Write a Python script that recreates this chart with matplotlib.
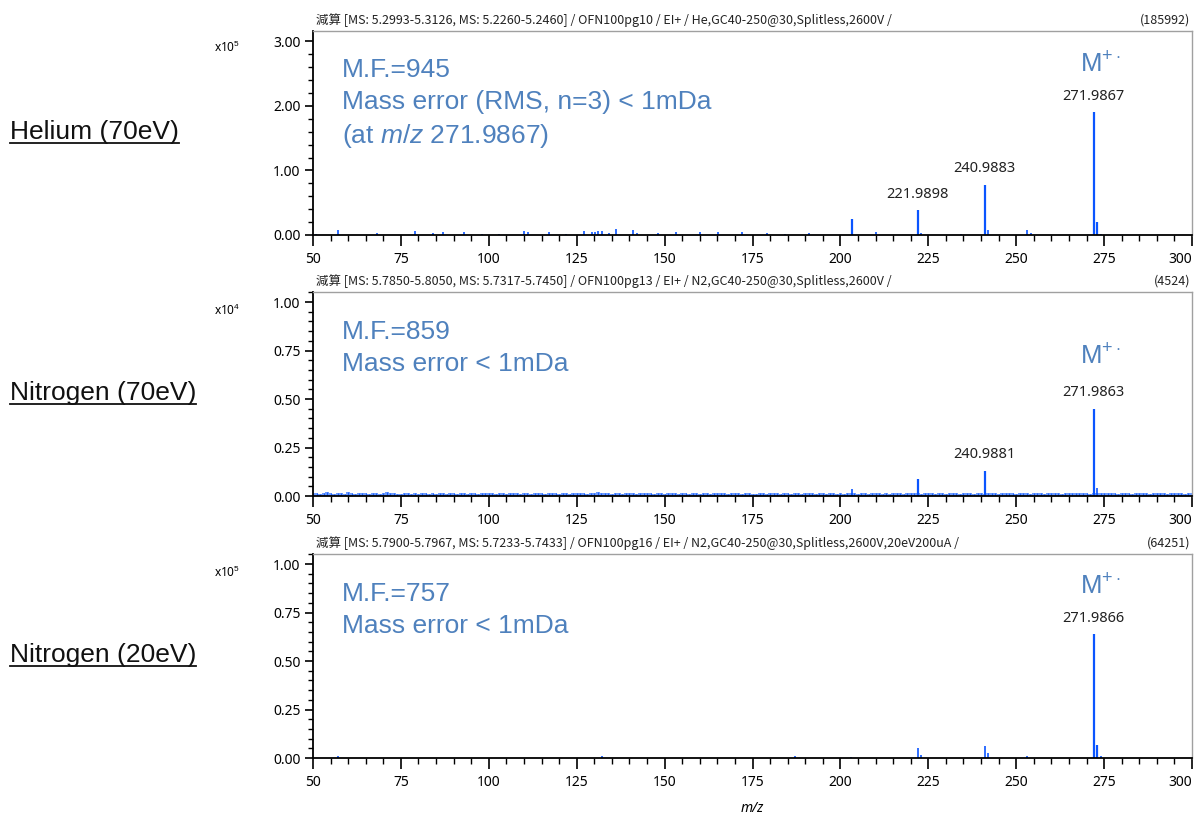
import matplotlib
matplotlib.use("Agg")
import matplotlib.pyplot as plt
from matplotlib.lines import Line2D
from matplotlib.ticker import MultipleLocator, FormatStrFormatter

# ---- data (m/z, intensity in units of the panel's scale) ----
he_mz = [271.9867, 272.99, 273.98, 240.9883, 241.99, 221.9898, 222.99, 203.2, 210.0,
         191.1, 184.2, 179.2, 234.2, 253.1, 254.2, 57.0, 50.8, 68.1, 79.0, 84.0, 87.1,
         93.0, 98.0, 103.0, 110.0, 111.2, 117.0, 122.0, 127.1, 129.3, 130.1, 131.1,
         132.3, 134.2, 136.1, 141.0, 142.1, 148.0, 153.2, 160.1, 165.1, 172.1]
he_int = [1.90, 0.20, 0.02, 0.78, 0.08, 0.38, 0.03, 0.25, 0.04,
          0.03, 0.02, 0.03, 0.02, 0.08, 0.03, 0.07, 0.02, 0.03, 0.06, 0.03, 0.05,
          0.04, 0.02, 0.02, 0.06, 0.05, 0.04, 0.02, 0.06, 0.05, 0.05, 0.06,
          0.06, 0.03, 0.09, 0.07, 0.03, 0.03, 0.04, 0.04, 0.05, 0.05]

n70_mz = [271.9863, 272.99, 240.9881, 221.99, 203.2]
n70_int = [0.45, 0.04, 0.13, 0.088, 0.036]
# baseline noise of the N2 70eV spectrum, one value per nominal mass 50..300
n70_noise = [
    0.014, 0.018, 0.012, 0.016, 0.020, 0.013, 0.011, 0.017, 0.015, 0.012, 0.019, 0.014, 0.010,
    0.016, 0.013, 0.018, 0.012, 0.015, 0.017, 0.011, 0.014, 0.019, 0.013, 0.016, 0.012,
    0.010, 0.013, 0.015, 0.011, 0.014, 0.012, 0.016, 0.013, 0.010, 0.015, 0.012, 0.014, 0.017,
    0.011, 0.013, 0.015, 0.012, 0.016, 0.014, 0.011, 0.013, 0.017, 0.012, 0.014, 0.015,
    0.013, 0.016, 0.012, 0.018, 0.014, 0.011, 0.015, 0.013, 0.017, 0.012, 0.014, 0.016, 0.011,
    0.013, 0.015, 0.018, 0.012, 0.014, 0.016, 0.013, 0.011, 0.015, 0.017, 0.012, 0.014,
    0.016, 0.013, 0.015, 0.012, 0.018, 0.014, 0.021, 0.017, 0.013, 0.015, 0.012, 0.016, 0.014,
    0.011, 0.015, 0.013, 0.017, 0.012, 0.014, 0.016, 0.013, 0.015, 0.011, 0.014, 0.016,
    0.012, 0.015, 0.013, 0.017, 0.011, 0.014, 0.016, 0.012, 0.015, 0.013, 0.010, 0.014, 0.016,
    0.012, 0.015, 0.013, 0.017, 0.014, 0.011, 0.015, 0.013, 0.016, 0.012, 0.014, 0.015,
    0.011, 0.009, 0.013, 0.016, 0.012, 0.018, 0.014, 0.015, 0.012, 0.017, 0.013, 0.011, 0.015,
    0.014, 0.012, 0.016, 0.013, 0.015, 0.011, 0.014, 0.017, 0.012, 0.013, 0.015, 0.012,
    0.014, 0.012, 0.016, 0.013, 0.015, 0.011, 0.014, 0.016, 0.012, 0.013, 0.015, 0.017, 0.012,
    0.014, 0.011, 0.016, 0.013, 0.015, 0.012, 0.014, 0.017, 0.013, 0.015, 0.012, 0.014,
    0.013, 0.015, 0.012, 0.016, 0.014, 0.011, 0.015, 0.013, 0.017, 0.012, 0.014, 0.016, 0.013,
    0.011, 0.015, 0.014, 0.012, 0.016, 0.013, 0.015, 0.012, 0.014, 0.017, 0.013, 0.015,
    0.012, 0.014, 0.016, 0.013, 0.011, 0.015, 0.013, 0.017, 0.012, 0.014, 0.016, 0.013, 0.015,
    0.012, 0.018, 0.014, 0.016, 0.013, 0.015, 0.017, 0.014, 0.012, 0.015, 0.018, 0.016,
    0.015, 0.013, 0.017, 0.014, 0.012, 0.016, 0.013, 0.015, 0.011, 0.014, 0.016, 0.013, 0.015,
    0.012, 0.014, 0.017, 0.013, 0.015, 0.012, 0.016, 0.014, 0.013, 0.015, 0.012, 0.014,
    0.013,
]

n20_mz = [271.9866, 272.99, 273.98, 240.99, 241.99, 221.99, 222.99, 253.0, 187.1, 132.1, 57.0, 203.0]
n20_int = [0.64, 0.068, 0.01, 0.062, 0.025, 0.05, 0.015, 0.01, 0.012, 0.01, 0.008, 0.006]

x_ticks = [50, 75, 100, 125, 150, 175, 200, 225, 250, 275, 300]

titles = [
    "減算 [MS: 5.2993-5.3126, MS: 5.2260-5.2460] / OFN100pg10 / EI+ / He,GC40-250@30,Splitless,2600V /",
    "減算 [MS: 5.7850-5.8050, MS: 5.7317-5.7450] / OFN100pg13 / EI+ / N2,GC40-250@30,Splitless,2600V /",
    "減算 [MS: 5.7900-5.7967, MS: 5.7233-5.7433] / OFN100pg16 / EI+ / N2,GC40-250@30,Splitless,2600V,20eV200uA /",
]
base_peaks = ["(185992)", "(4524)", "(64251)"]
exponents = [5, 4, 5]
side_labels = ["Helium (70eV)", "Nitrogen (70eV)", "Nitrogen (20eV)"]
notes = [
    "M.F.=945\nMass error (RMS, n=3) < 1mDa\n(at $m/z$ 271.9867)",
    "M.F.=859\nMass error < 1mDa",
    "M.F.=757\nMass error < 1mDa",
]
# labelled peaks: (m/z, intensity, text)
labels = [
    [(271.9867, 1.90, "271.9867"), (240.9883, 0.78, "240.9883"), (221.9898, 0.38, "221.9898")],
    [(271.9863, 0.45, "271.9863"), (240.9881, 0.13, "240.9881")],
    [(271.9866, 0.64, "271.9866")],
]

plt.rcParams['font.family'] = ['Noto Sans', 'Noto Sans CJK JP', 'DejaVu Sans']
plt.rcParams['mathtext.fontset'] = 'custom'
plt.rcParams['mathtext.rm'] = 'Liberation Sans'
plt.rcParams['mathtext.it'] = 'Liberation Sans:italic'

BLUE = '#0a55ff'
NOTE = '#4f81bd'
W, H = 1199, 814

fig = plt.figure(figsize=(W / 100, H / 100), dpi=100)

# axes boxes in pixels: (bottom y, top y)
boxes = [(235, 31), (496, 292), (758, 554)]
ytops = [3.16, 1.052, 1.052]
spectra = [(he_mz, he_int), (n70_mz, n70_int), (n20_mz, n20_int)]
note_y = [58, 320, 582]
mplus_y = [65, 357, 587]
side_y = [132, 393, 655]
exp_y = [47, 310, 572]

axes = []
for i in range(3):
    yb, yt = boxes[i]
    ax = fig.add_axes([313 / W, 1 - yb / H, 879 / W, (yb - yt) / H])
    axes.append(ax)
    mz, it = spectra[i]

    if i == 1:
        nm = list(range(50, 301))
        ax.fill_between(nm, 0, n70_noise, step='mid', color='#6f9dff', lw=0)
        ax.vlines(nm, 0, n70_noise, color='#1a60ff', lw=0.8)

    small = [(m, v) for m, v in zip(mz, it) if v < 0.1 * max(it)]
    big = [(m, v) for m, v in zip(mz, it) if v >= 0.1 * max(it)]
    ax.vlines([m for m, _ in small], 0, [v for _, v in small], color=BLUE, lw=1.2)
    ax.vlines([m for m, _ in big], 0, [v for _, v in big], color=BLUE, lw=1.6)

    ax.set_xlim(50, 300)
    ax.set_ylim(0, ytops[i])
    ax.set_xticks(x_ticks)
    ax.set_xticklabels([str(v) for v in x_ticks])
    ax.get_xticklabels()[-1].set_horizontalalignment('right')
    ax.xaxis.set_minor_locator(MultipleLocator(5))
    if i == 0:
        ax.yaxis.set_major_locator(MultipleLocator(1.0))
        ax.yaxis.set_minor_locator(MultipleLocator(0.2))
    else:
        ax.yaxis.set_major_locator(MultipleLocator(0.25))
        ax.yaxis.set_minor_locator(MultipleLocator(0.05))
    ax.yaxis.set_major_formatter(FormatStrFormatter('%.2f'))
    ax.tick_params(axis='x', which='major', length=8, width=1.2, labelsize=10, pad=4)
    ax.tick_params(axis='x', which='minor', length=4, width=1.0)
    ax.tick_params(axis='y', which='major', length=6, width=1.2, labelsize=10, pad=3)
    ax.tick_params(axis='y', which='minor', length=3.5, width=1.0)
    for s in ['left', 'bottom']:
        ax.spines[s].set_linewidth(1.3)
    for s in ['top', 'right']:
        ax.spines[s].set_color('#a0a0a0')
        ax.spines[s].set_linewidth(1.0)

    # header line
    ax.text(0.003, 1.02, titles[i], transform=ax.transAxes, ha='left', va='bottom',
            fontsize=9, family=['Noto Sans CJK JP'], color='#222222')
    ax.text(0.998, 1.02, base_peaks[i], transform=ax.transAxes, ha='right', va='bottom',
            fontsize=9, family=['Noto Sans CJK JP'], color='#222222')

    # peak labels
    for m, v, t in labels[i]:
        ax.annotate(t, (m, v), xytext=(0, 6), textcoords='offset points',
                    ha='center', va='bottom', fontsize=10.5, color='#222222')

    # notes
    fig.text(342 / W, 1 - note_y[i] / H, notes[i], ha='left', va='top', fontsize=19,
             color=NOTE, family='Liberation Sans', linespacing=1.4)
    fig.text(1100 / W, 1 - mplus_y[i] / H, r'M$^{+\cdot}$', ha='center', va='center',
             fontsize=18.5, color=NOTE, family='Liberation Sans')

    fig.text(240 / W, 1 - exp_y[i] / H, r'x10$^{%d}$' % exponents[i], ha='right',
             va='center', fontsize=8.5)

axes[2].set_xlabel('m/z', style='italic', fontsize=10, labelpad=8)

side_texts = []
for i in range(3):
    t = fig.text(10 / W, 1 - side_y[i] / H, side_labels[i], ha='left', va='center',
                 fontsize=19, family='Liberation Sans', color='#111111')
    side_texts.append(t)

# underline the side labels
fig.canvas.draw()
renderer = fig.canvas.get_renderer()
for t in side_texts:
    bb = t.get_window_extent(renderer)
    y = (bb.y0 + 1.5) / H
    fig.add_artist(Line2D([bb.x0 / W, bb.x1 / W], [y, y], color='#111111', lw=1.3,
                          transform=fig.transFigure))

fig.savefig('out.png', dpi=100)
